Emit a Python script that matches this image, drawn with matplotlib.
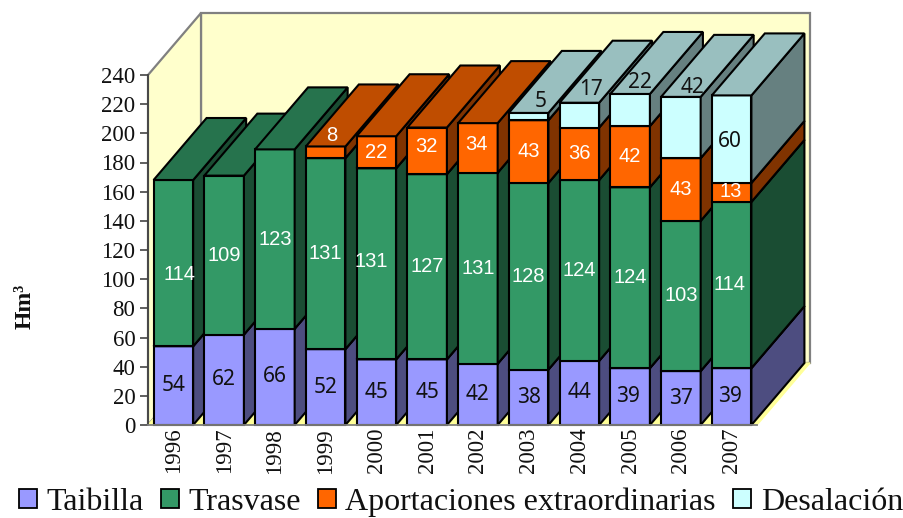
import matplotlib
matplotlib.use("Agg")
import matplotlib.pyplot as plt
import numpy as np
from matplotlib.patches import Polygon, Patch

years = ["1996", "1997", "1998", "1999", "2000", "2001", "2002", "2003", "2004", "2005", "2006", "2007"]
taibilla = [54, 62, 66, 52, 45, 45, 42, 38, 44, 39, 37, 39]
trasvase = [114, 109, 123, 131, 131, 127, 131, 128, 124, 124, 103, 114]
aportaciones = [0, 0, 0, 8, 22, 32, 34, 43, 36, 42, 43, 13]
desalacion = [0, 0, 0, 0, 0, 0, 0, 5, 17, 22, 42, 60]
series_names = ["Taibilla", "Trasvase", "Aportaciones extraordinarias", "Desalación"]

# front, top, side colours for each series
front_cols = ["#9999FF", "#339966", "#FF6600", "#CCFFFF"]
top_cols = ["#7373BF", "#26734D", "#BF4D00", "#99BFBF"]
side_cols = ["#4D4D80", "#1A4D33", "#803300", "#668080"]
text_cols = ["#111111", "white", "white", "#111111"]

# depth of the fake 3d box, in data units
depth_x = 53 / 50.75
depth_y = 62 / (350 / 240)
bar_w = 0.78

# labels that sit away from the middle of their segment, offset in pixels
nudges = {
    (0, 1): (6, -11), (4, 1): (-5, 2), (9, 0): (-2, 0), (11, 0): (-2, 0), (11, 1): (-2, 0),
    (3, 2): (6, 17), (7, 3): (12, 15), (8, 3): (12, 26), (9, 3): (10, 27), (10, 3): (12, 40),
    (11, 2): (-1, 1), (11, 3): (-2, -2), (5, 2): (-1, 4), (6, 2): (-1, 3),
}


def draw_box(ax, x0, x1, y0, y1, i):
    ax.add_patch(Polygon([(x0, y0), (x1, y0), (x1, y1), (x0, y1)], closed=True, facecolor=front_cols[i],
                         edgecolor="black", lw=1.5, clip_on=False, joinstyle="miter"))
    ax.add_patch(Polygon([(x1, y0), (x1 + depth_x, y0 + depth_y), (x1 + depth_x, y1 + depth_y), (x1, y1)], closed=True,
                         facecolor=side_cols[i], edgecolor="black", lw=1.5, clip_on=False, joinstyle="miter"))
    ax.add_patch(Polygon([(x0, y1), (x1, y1), (x1 + depth_x, y1 + depth_y), (x0 + depth_x, y1 + depth_y)], closed=True,
                         facecolor=top_cols[i], edgecolor="black", lw=1.5, clip_on=False, joinstyle="miter"))


fig = plt.figure(figsize=(9.04, 5.18), dpi=100)
ax = fig.add_axes([148 / 904, (518 - 425) / 518, 609 / 904, 350 / 518])
ax.set_xlim(-0.5, 11.5)
ax.set_ylim(0, 240)
ax.patch.set_visible(False)

xmin, xmax = -0.5, 11.5
wall = "#FFFFCC"
grey = "#808080"
ax.add_patch(Polygon([(xmin + depth_x, 0 + depth_y), (xmax + depth_x, depth_y), (xmax + depth_x, 240 + depth_y),
                      (xmin + depth_x, 240 + depth_y)], closed=True, facecolor=wall, edgecolor=grey, lw=1.6, clip_on=False))
ax.add_patch(Polygon([(xmin, 0), (xmin + depth_x, depth_y), (xmin + depth_x, 240 + depth_y), (xmin, 240)], closed=True,
                     facecolor=wall, edgecolor=grey, lw=1.6, clip_on=False))
ax.add_patch(Polygon([(xmin, 0), (xmax, 0), (xmax + depth_x, depth_y), (xmin + depth_x, depth_y)], closed=True,
                     facecolor="#FFFF99", edgecolor="#FFFF99", lw=1, clip_on=False))

all_series = [taibilla, trasvase, aportaciones, desalacion]
for n in range(len(years)):
    bottom = 0
    x0 = n - bar_w / 2
    x1 = n + bar_w / 2
    for s, vals in enumerate(all_series):
        v = vals[n]
        if v == 0:
            continue
        draw_box(ax, x0, x1, bottom, bottom + v, s)
        bottom += v

for n in range(len(years)):
    bottom = 0
    for s, vals in enumerate(all_series):
        v = vals[n]
        if v == 0:
            continue
        off = nudges.get((n, s), (0, 0))
        fam = "Noto Sans" if text_cols[s] != "white" else "Liberation Sans"
        size = 15 if text_cols[s] != "white" else 14.5
        ax.annotate(str(v), (n, bottom + v / 2), xytext=off, textcoords="offset pixels", ha="center", va="center",
                    color=text_cols[s], fontsize=size, family=fam, zorder=5, annotation_clip=False)
        bottom += v

ax.spines["top"].set_visible(False)
ax.spines["right"].set_visible(False)
ax.spines["left"].set_color("#444444")
ax.spines["left"].set_linewidth(1.3)
ax.spines["bottom"].set_color(grey)
ax.spines["bottom"].set_linewidth(1.3)
ax.set_yticks(np.arange(0, 241, 20))
ax.set_xticks(range(len(years)))
ax.set_xticklabels(years, rotation=90, family="Liberation Serif", fontsize=16.5, color="#111111")
ax.tick_params(axis="y", length=6, width=1.2, color="#444444", pad=3, labelsize=16.5, labelcolor="#111111")
ax.tick_params(axis="x", length=0, pad=2)
for t in ax.get_yticklabels():
    t.set_family("Liberation Serif")

fig.text(25 / 904, 1 - 306 / 518, "Hm³", rotation=90, ha="center", va="center", family="Liberation Serif",
         fontsize=17, fontweight="bold", color="#111111")

handles = [Patch(facecolor=c, edgecolor="black", lw=1.3) for c in front_cols]
fig.legend(handles, series_names, loc="lower left", bbox_to_anchor=(19 / 904, 1 / 518), ncol=4, frameon=False,
           prop={"family": "Liberation Serif", "size": 23}, handlelength=0.55, handleheight=0.55, handletextpad=0.3,
           columnspacing=0.55, borderpad=0, borderaxespad=0, labelcolor="#111111")

plt.savefig("out.png", dpi=100)
plt.close()
